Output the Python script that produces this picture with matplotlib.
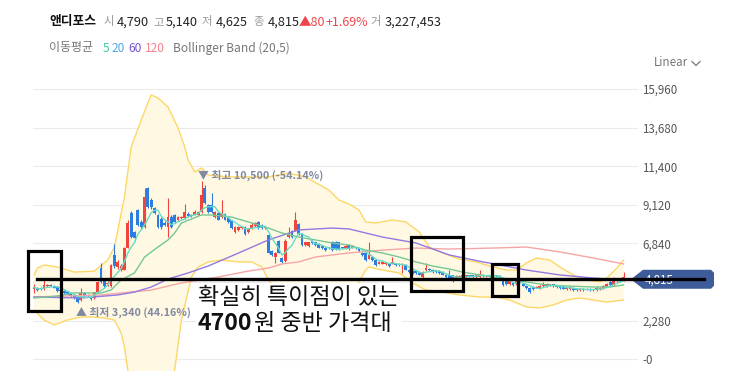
import numpy as np
import pandas as pd
import matplotlib
matplotlib.use("Agg")
import matplotlib.pyplot as plt
from matplotlib.patches import Rectangle, Polygon

plt.rcParams['font.family'] = ['Noto Sans CJK KR', 'DejaVu Sans']

W, H = 733, 371

# daily candles (won) left to right
opens = [4150, 4200, 4200, 4150, 4300, 4400, 4350, 4250, 4080, 4050,
         3950, 3830, 3750, 3680, 3500, 3900, 3800, 3700, 3600, 3950,
         5400, 4650, 4450, 4300, 6150, 5450, 5300, 5300, 6600, 8650,
         7500, 8800, 8100, 7800, 10100, 9400, 8930, 8500, 8300, 8050,
         7800, 8400, 8500, 8200, 8350, 8350, 8600, 8550, 8550, 8550,
         8700, 10100, 9100, 9100, 8400, 8650, 8400, 8600, 8350, 8200,
         7500, 7650, 7780, 7800, 7500, 7750, 7850, 8100, 7950, 7780,
         7350, 6400, 6050, 7000, 6000, 5800, 7200, 7600, 7600, 8000,
         7400, 6750, 6700, 7000, 6900, 6800, 6700, 6600, 6550, 6950,
         6950, 6900, 6600, 6550, 6750, 6600, 6600, 6550, 6300, 6250,
         5950, 6050, 5850, 5650, 5650, 5600, 5650, 5650, 5650, 5650,
         5550, 5550, 5300, 5200, 5200, 5150, 4850, 5250, 5350, 5300,
         5250, 5200, 5150, 5000, 4950, 4950, 4800, 4850, 4950, 4850,
         4950, 4950, 4850, 4850, 5000, 4900, 4950, 4900, 4950, 4900,
         4700, 4600, 4450, 4500, 4450, 4600, 4450, 4350, 4200, 4250,
         4230, 4220, 4300, 4430, 4380, 4420, 4350, 4330, 4300, 4150,
         4150, 4200, 4150, 4080, 4180, 4120, 4150, 4100, 4100, 4180,
         4200, 4280, 4550, 4400, 4650, 4780, 4790]
closes = [4250, 4100, 4130, 4380, 4400, 4330, 4230, 4050, 4050, 3920,
          3850, 3720, 3620, 3400, 3900, 3740, 3720, 3560, 3950, 4550,
          4560, 4330, 4500, 5570, 5500, 5750, 5500, 6550, 8050, 7250,
          7150, 7950, 7800, 9570, 9000, 9000, 8650, 7800, 7800, 7950,
          8400, 7800, 8100, 8400, 8400, 8700, 8450, 8450, 8700, 8700,
          9700, 9250, 8700, 8700, 8700, 8250, 8600, 8250, 8100, 7750,
          7800, 7800, 7820, 7400, 7700, 7950, 8050, 7750, 7750, 7800,
          6300, 6150, 6300, 6300, 5750, 7000, 7400, 7200, 8200, 7400,
          6750, 6900, 6900, 6850, 6750, 6600, 6550, 6450, 6600, 6450,
          6500, 6500, 6550, 6700, 6500, 6700, 6550, 6400, 6150, 5850,
          6150, 5850, 5570, 5750, 5750, 5700, 5500, 5750, 5550, 5550,
          5650, 5300, 5150, 5100, 5100, 4980, 5150, 5400, 5250, 5150,
          5150, 5100, 4980, 4850, 4800, 4800, 4900, 4880, 4850, 4950,
          4900, 4850, 4950, 5050, 4900, 4950, 4900, 4950, 4900, 4850,
          4400, 4450, 4600, 4400, 4600, 4620, 4330, 4220, 3980, 4150,
          4270, 4330, 4420, 4300, 4400, 4300, 4280, 4230, 4180, 4200,
          4250, 4100, 4080, 4180, 4100, 4150, 4080, 4120, 4200, 4200,
          4300, 4420, 4400, 4700, 4600, 4735, 4815]
highs = [4450, 4250, 4250, 4720, 4450, 4450, 4400, 4300, 4150, 4100,
         4000, 3900, 3800, 3720, 4200, 3950, 3850, 3750, 4000, 4600,
         5680, 4700, 4600, 5600, 6800, 5850, 5600, 6650, 8200, 8750,
         7600, 8900, 8200, 10100, 10200, 9500, 9000, 8600, 8400, 8150,
         9550, 8500, 8600, 8450, 8450, 9200, 8700, 8600, 8800, 8750,
         10500, 10300, 9200, 9800, 8750, 8700, 9400, 8650, 8400, 8250,
         7850, 7850, 7900, 7850, 7750, 8100, 8100, 8150, 8000, 7850,
         7400, 6450, 6350, 7050, 6050, 7100, 7800, 7650, 8700, 8050,
         7450, 6950, 6950, 7050, 6950, 6850, 6750, 6650, 6650, 7000,
         7000, 6950, 6650, 6750, 6800, 6750, 6650, 6600, 6350, 6300,
         6900, 6100, 5900, 5800, 5800, 5750, 5700, 6050, 5700, 5700,
         5700, 5600, 5350, 5250, 5250, 5200, 5200, 5700, 5400, 5350,
         5300, 5250, 5200, 5050, 5300, 5000, 4950, 4950, 5000, 5000,
         5000, 5000, 5050, 5300, 5050, 5000, 5000, 5000, 5000, 4950,
         4750, 4650, 4650, 4550, 4650, 4700, 4500, 4400, 4250, 4300,
         4300, 4380, 4550, 4480, 4450, 4450, 4400, 4380, 4330, 4250,
         4300, 4250, 4200, 4220, 4230, 4200, 4200, 4180, 4300, 4250,
         4400, 4500, 4600, 4850, 4700, 4800, 5140]
lows = [3900, 4050, 4100, 4100, 4250, 4300, 4200, 4000, 4000, 3880,
        3800, 3680, 3580, 3340, 3450, 3700, 3680, 3520, 3550, 3900,
        4500, 4250, 4350, 4250, 5400, 5350, 5200, 5250, 6550, 7150,
        7000, 7900, 7700, 7750, 8950, 8900, 8600, 7750, 7700, 7850,
        7200, 7750, 8050, 8150, 8300, 8300, 8400, 8400, 8500, 8500,
        8650, 9200, 8650, 8650, 8350, 8200, 8350, 8200, 8050, 7700,
        7450, 7600, 7700, 7350, 7450, 7700, 7800, 7700, 7700, 7700,
        6250, 6100, 5700, 6250, 5700, 5750, 7150, 7150, 7550, 7350,
        6700, 6700, 6650, 6800, 6700, 6550, 6500, 6400, 6500, 6400,
        6450, 6450, 6500, 6500, 6450, 6550, 6500, 6350, 6100, 5800,
        5900, 5800, 5500, 5600, 5600, 5550, 5450, 5600, 5500, 5500,
        5100, 5250, 5100, 5050, 5050, 4950, 4800, 5200, 5200, 5100,
        5100, 5050, 4950, 4800, 4750, 4550, 4750, 4800, 4800, 4800,
        4850, 4800, 4800, 4800, 4850, 4850, 4850, 4850, 4850, 4800,
        4350, 4400, 4400, 4350, 4400, 4550, 4300, 4150, 3930, 4100,
        4200, 4180, 4250, 4250, 4330, 4250, 4230, 4180, 4130, 4100,
        4100, 4050, 4050, 4030, 4050, 4080, 4050, 4050, 4050, 4100,
        4150, 4250, 4350, 4350, 4550, 4550, 4625]
volume = 3227453

# indicator lines (candle index, won)
upper_idx = [0, 1, 3, 7, 12, 18, 22, 24, 27, 29, 32, 34, 35, 37, 40, 43, 45, 46, 48, 50,
             52, 58, 70, 76, 81, 88, 91, 94, 97, 99, 102, 107, 111, 115, 118, 122, 127, 132,
             136, 141, 144, 147, 150, 154, 157, 161, 165, 169, 171, 174, 176]
upper = [4980, 5390, 5570, 5450, 5150, 5210, 5860, 6630, 9580, 12540, 14130, 15140, 15610,
         15430, 14900, 13660, 12540, 11770, 11060, 11300, 10880, 10770, 10770, 11000, 10770,
         10000, 9410, 9170, 8820, 8110, 8050, 8230, 8110, 7520, 6630, 6280, 5920, 5750,
         5510, 5270, 5270, 5690, 5980, 5860, 5450, 4980, 4680, 4570, 4800, 5390, 5860]
lower_idx = [0, 3, 6, 10, 14, 17, 21, 24, 26, 27, 28, 31, 35, 39, 42, 44, 47, 49, 52, 56,
             61, 65, 68, 70, 73, 76, 82, 88, 94, 97, 99, 100, 104, 109, 113, 117, 122, 127,
             133, 138, 142, 147, 151, 155, 159, 163, 167, 171, 176]
lower = [2910, 2320, 2030, 2320, 2500, 2500, 2440, 2320, 1550, 730, -630, -2000, -3000,
         -2000, -630, 2320, 4860, 5450, 5750, 5860, 5750, 5750, 5450, 4680, 4090, 3800,
         3200, 3200, 3800, 4570, 5270, 5450, 5270, 5100, 4510, 4090, 3970, 3800, 3680,
         3680, 3500, 3090, 3030, 3210, 3500, 3620, 3500, 3380, 3500]
ma20_idx = [0, 7, 12, 17, 20, 23, 26, 30, 33, 37, 40, 42, 44, 50, 53, 59, 64, 70, 74, 79,
            84, 89, 94, 99, 104, 109, 114, 119, 124, 128, 137, 142, 147, 153, 159, 167,
            172, 176]
ma20 = [3620, 3740, 3920, 3920, 3920, 4090, 4680, 5100, 6040, 6630, 7050, 7460, 8050, 8520,
        8520, 8400, 8110, 7750, 7460, 7220, 7050, 6870, 6750, 6450, 6280, 6040, 5750, 5510,
        5330, 5150, 4860, 4740, 4570, 4390, 4330, 4270, 4270, 4390]
ma60_idx = [0, 14, 25, 30, 35, 40, 46, 52, 59, 70, 79, 89, 94, 104, 114, 124, 134, 139,
            147, 157, 167, 176]
ma60 = [3680, 3620, 3800, 3970, 4270, 4740, 5100, 5510, 6100, 7050, 7640, 7750, 7700, 7220,
        6870, 6160, 5750, 5570, 5270, 4980, 4800, 4680]
ma120_idx = [0, 20, 35, 44, 55, 64, 70, 74, 79, 84, 94, 104, 114, 124, 137, 147, 157, 167,
             176]
ma120 = [3680, 3800, 4090, 4510, 4860, 5210, 5390, 5630, 5750, 6040, 6280, 6450, 6570, 6510,
         6570, 6630, 6340, 5980, 5630]

y_ticks = [0, 2280, 4560, 6840, 9120, 11400, 13680, 15960]
# the 4,560 label sits under the price tag in the original
y_labels = ['-0', '2,280', '', '6,840', '9,120', '11,400', '13,680', '15,960']

RED = '#f0443c'
BLUE = '#2c7de0'

fig = plt.figure(figsize=(W / 100, H / 100), dpi=100)
ax = fig.add_axes([33 / W, 0, 605 / W, 299 / H])

idx = np.arange(len(closes))
o = np.array(opens)
c = np.array(closes)
hi = np.array(highs)
lo = np.array(lows)

# bollinger band
band_x = np.r_[upper_idx, lower_idx[::-1]]
band_y = np.r_[upper, lower[::-1]]
ax.fill(band_x, band_y, color='#fff9e3', lw=0, zorder=1)
ax.plot(upper_idx, upper, color='#fdd766', lw=1.0, zorder=2)
ax.plot(lower_idx, lower, color='#fdd766', lw=1.0, zorder=2)

# candles
colors = np.where(c >= o, RED, BLUE)
ax.vlines(idx, lo, hi, colors=colors, lw=0.8, zorder=3)
body = np.maximum(np.abs(c - o), 60)
ax.bar(idx, body, bottom=np.minimum(o, c), width=0.85, color=colors, lw=0, zorder=3)

# moving averages
ma5 = pd.Series(c).rolling(5, min_periods=1).mean()
ax.plot(ma120_idx, ma120, color='#f6a5a5', lw=1.0, zorder=4)
ax.plot(ma60_idx, ma60, color='#9479e0', lw=1.0, zorder=4)
ax.plot(ma20_idx, ma20, color='#76c794', lw=1.0, zorder=4)
ax.plot(idx, ma5, color='#66dcc6', lw=1.0, zorder=4)

ax.set_xlim(-0.3, 180.3)
ax.set_ylim(-690, 16965)
ax.set_yticks(y_ticks)
ax.set_yticklabels(y_labels)
ax.yaxis.tick_right()
ax.tick_params(axis='y', length=0, pad=3, labelsize=8.3, labelcolor='#555555')
ax.set_xticks([])
ax.grid(axis='y', color='#ebebeb', lw=0.8, zorder=0)
ax.set_axisbelow(True)
for s in ax.spines.values():
    s.set_visible(False)
ax.patch.set_alpha(0)

# high / low markers
imax = int(np.argmax(hi))
imin = int(np.argmin(lo))
last = c[-1]
ax.annotate(f'▼ 최고 {hi[imax]:,} ({(last - hi[imax]) / hi[imax] * 100:.2f}%)',
            xy=(imax, hi[imax]), xytext=(-2.5, 4.6), textcoords='offset points',
            ha='left', va='center', fontsize=7.8, color='#8089a0', fontweight='bold', zorder=6)
ax.annotate(f'▲ 최저 {lo[imin]:,} ({(last - lo[imin]) / lo[imin] * 100:.2f}%)',
            xy=(imin, lo[imin]), xytext=(-1.2, -6.6), textcoords='offset points',
            ha='left', va='center', fontsize=7.8, color='#8089a0', fontweight='bold', zorder=6)

# overlay in pixel coordinates for header and hand drawn marks
ov = fig.add_axes([0, 0, 1, 1], zorder=10)
ov.set_xlim(0, W)
ov.set_ylim(H, 0)
ov.axis('off')
ov.patch.set_alpha(0)

prev = c[-2]
chg = last - prev
row1 = [(49, '앤디포스', '#111111', 'bold', 9.2),
        (104, '시', '#9a9a9a', 'normal', 8.2), (117, f'{o[-1]:,}', '#222222', 'normal', 9.2),
        (153, '고', '#9a9a9a', 'normal', 8.2), (166, f'{hi[-1]:,}', '#222222', 'normal', 9.2),
        (202, '저', '#9a9a9a', 'normal', 8.2), (216, f'{lo[-1]:,}', '#222222', 'normal', 9.2),
        (253, '종', '#9a9a9a', 'normal', 8.2), (268, f'{last:,}', '#222222', 'normal', 9.2),
        (299, f'▲{chg:,}', '#f0464b', 'normal', 9),
        (326, f'+{chg / prev * 100:.2f}%', '#f0464b', 'normal', 9),
        (370, '거', '#9a9a9a', 'normal', 8.2), (385, f'{volume:,}', '#222222', 'normal', 9.2)]
for x, t, col, wt, fs in row1:
    ov.text(x, 22, t, color=col, fontsize=fs, fontweight=wt, ha='left', va='center')

row2 = [(49, '이동평균', '#777777'), (103, '5', '#3cc9a8'), (112, '20', '#4aa9e9'),
        (128, '60', '#7755cc'), (145, '120', '#f5808a'),
        (173, 'Bollinger Band (20,5)', '#777777')]
for x, t, col in row2:
    ov.text(x, 48, t, color=col, fontsize=8.6, ha='left', va='center')

ov.text(654, 63, 'Linear', color='#777777', fontsize=8.4, ha='left', va='center')
ov.plot([692, 696, 700], [61.5, 65.5, 61.5], color='#777777', lw=0.9)

# price tag on the right
disp = ax.transData.transform((idx[-1], last))
ty = H - disp[1] + 1.5
ov.add_patch(Polygon([(631, ty), (643, ty - 9.5), (711, ty - 9.5), (714, ty - 6.5),
                      (714, ty + 6.5), (711, ty + 9.5), (643, ty + 9.5)],
                     closed=True, fc='#3f5c9a', ec='none', zorder=3))
ov.text(645, ty + 0.5, f'{last:,}', color='white', fontsize=8.4, ha='left', va='center', zorder=4)

# hand drawn annotation
ov.add_patch(Rectangle((196, 283), 206, 57, fc='white', ec='none', zorder=2))
ov.plot([37, 704], [279, 279], color='black', lw=2.4, zorder=5)
for (x0, y0, w, h) in [(28, 251, 33, 60), (411, 237, 52, 54), (492, 264, 26, 32)]:
    ov.add_patch(Rectangle((x0, y0), w, h, fill=False, ec='black', lw=2.3, zorder=5))
ov.text(198, 297, '확실히 특이점이 있는', color='#111111', fontsize=16.6,
        ha='left', va='center', zorder=6)
num = ov.text(198, 324, '4700', color='#111111', fontsize=16.6, fontweight='bold',
              family=['Liberation Sans Narrow', 'Noto Sans CJK KR'],
              ha='left', va='center', zorder=6)
fig.canvas.draw()
bb = num.get_window_extent()
x_after = bb.x1 + 2
ov.text(x_after, 324, '원 중반 가격대', color='#111111', fontsize=16.6,
        ha='left', va='center', zorder=6)

fig.savefig('out.png', dpi=100)
